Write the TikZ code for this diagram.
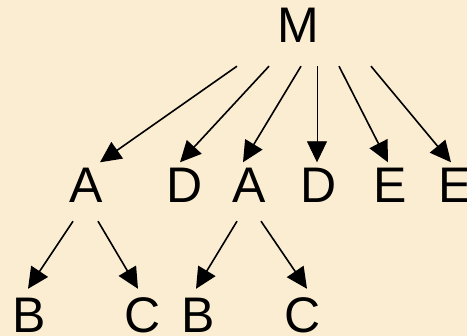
\documentclass[tikz,border=0pt]{standalone}
\usepackage{fontspec}
\setmainfont{Liberation Sans}
\usetikzlibrary{arrows.meta}

\definecolor{parchment}{RGB}{250,237,209}

\tikzset{
	letter/.style={inner sep=0pt, minimum width=40pt, minimum height=46pt,
		font=\fontsize{50}{60}\selectfont},
	arr/.style={-{Triangle[length=21pt,width=20pt]}, line width=1.6pt},
	thinarr/.style={-{Triangle[length=21pt,width=20pt]}, line width=0.9pt}
}

\begin{document}
\begin{tikzpicture}[x=1pt,y=-1pt]
		
		\fill[parchment] (0,0) rectangle (467,336);
		\useasboundingbox (0,0) rectangle (467,336);
		
		% root
		\node[letter] (m) at (298.5,25.5) {M};
		
		% second row
		\node[letter] (a1) at (86,185.5) {A};
		\node[letter] (d1) at (184.5,185.5) {D};
		\node[letter] (a2) at (249,185.5) {A};
		\node[letter] (d2) at (318.5,185.5) {D};
		\node[letter] (e1) at (390.5,185.5) {E};
		\node[letter] (e2) at (455.5,185.5) {E};
		
		% third row
		\node[letter] (b1) at (29.5,315.5) {B};
		\node[letter] (c1) at (142.5,315.5) {C};
		\node[letter] (b2) at (198.5,315.5) {B};
		\node[letter] (c2) at (302.5,315.5) {C};
		
		\draw[arr] ([shift={(-61.5,17.5)}]m.south) -- ([shift={(14,0)}]a1.north);
		\draw[arr] ([shift={(-29.5,17.5)}]m.south) -- ([shift={(-4.5,0)}]d1.north);
		\draw[arr] ([shift={(2.5,17.5)}]m.south) -- ([shift={(-6,0)}]a2.north);
		\draw[thinarr] ([shift={(18.5,17.5)}]m.south) -- ([shift={(-1.5,0)}]d2.north);
		\draw[arr] ([shift={(40.5,17.5)}]m.south) -- ([shift={(-2.5,0)}]e1.north);
		\draw[arr] ([shift={(72.5,17.5)}]m.south) -- ([shift={(-4.5,0)}]e2.north);
		
		\draw[arr] ([shift={(-13,12.5)}]a1.south) -- ([shift={(-1.5,-3.5)}]b1.north);
		\draw[arr] ([shift={(12,12.5)}]a1.south) -- ([shift={(-4.5,-3.5)}]c1.north);
		\draw[arr] ([shift={(-12,12.5)}]a2.south) -- ([shift={(-2.5,-3.5)}]b2.north);
		\draw[arr] ([shift={(12,12.5)}]a2.south) -- ([shift={(4.5,-3.5)}]c2.north);
		
	\end{tikzpicture}
\end{document}
